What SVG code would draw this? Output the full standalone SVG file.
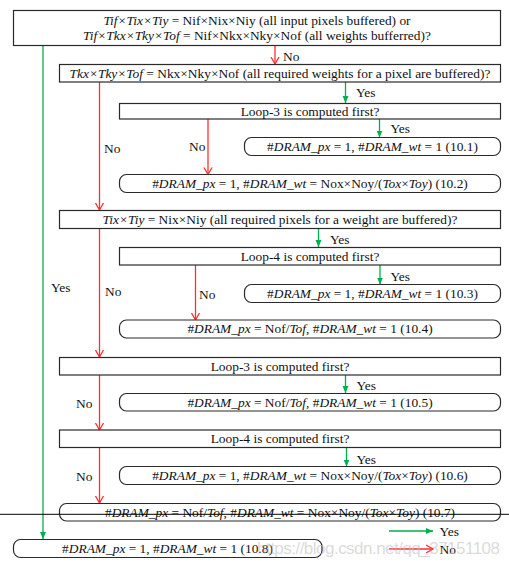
<svg xmlns="http://www.w3.org/2000/svg" width="509" height="566" viewBox="0 0 509 566">
<style>
.box{fill:#fff;stroke:#2a2a2a;stroke-width:1.2}
.t{font-family:"Liberation Serif","Times New Roman",serif;font-size:13.4px;fill:#111;text-anchor:middle}
.l{font-family:"Liberation Serif","Times New Roman",serif;font-size:13.4px;fill:#111}
.i{font-style:italic}
.g{stroke:#00b050;stroke-width:1.3;fill:none;marker-end:url(#ag)}
.r{stroke:#ff3030;stroke-width:1.3;fill:none;marker-end:url(#ar)}
.wm{font-family:"Liberation Sans",Arial,sans-serif;font-size:17px;fill:#bbbbbb;fill-opacity:0.55}
</style>
<defs>
<marker id="ag" markerUnits="userSpaceOnUse" markerWidth="8" markerHeight="8" refX="7" refY="4" orient="auto">
<path d="M0,1 L7,4 L0,7 Z" fill="#00b050"/>
</marker>
<marker id="ar" markerUnits="userSpaceOnUse" markerWidth="10" markerHeight="10" refX="7.5" refY="5" orient="auto">
<path d="M0.5,1 L7.5,5 L0.5,9" fill="none" stroke="#ff3030" stroke-width="1.3"/>
</marker>
</defs>
<g id="connectors">
<line class="g" x1="43" y1="45.5" x2="43" y2="539"/>
<line class="r" x1="275" y1="45.5" x2="275" y2="64"/>
<line class="g" x1="345.5" y1="82" x2="345.5" y2="103"/>
<line class="r" x1="99.5" y1="82" x2="99.5" y2="210"/>
<line class="g" x1="379.5" y1="119" x2="379.5" y2="137.5"/>
<line class="r" x1="208" y1="119" x2="208" y2="174.5"/>
<line class="g" x1="318.5" y1="228.5" x2="318.5" y2="247"/>
<line class="r" x1="99.5" y1="228.5" x2="99.5" y2="357"/>
<line class="g" x1="380" y1="265" x2="380" y2="284.5"/>
<line class="r" x1="195.5" y1="265" x2="195.5" y2="320"/>
<line class="g" x1="345.5" y1="375" x2="345.5" y2="393"/>
<line class="r" x1="99.5" y1="375" x2="99.5" y2="430"/>
<line class="g" x1="346.5" y1="448" x2="346.5" y2="466.5"/>
<line class="r" x1="99.5" y1="448" x2="99.5" y2="503"/>
<line class="g" x1="389" y1="531" x2="433" y2="531"/>
<line class="r" x1="389" y1="549" x2="433" y2="549"/>
<g class="l">
<text x="283" y="61">No</text>
<text x="356" y="97">Yes</text>
<text x="390.5" y="133">Yes</text>
<text x="104" y="152.5">No</text>
<text x="189" y="151">No</text>
<text x="330" y="244">Yes</text>
<text x="390.5" y="280.5">Yes</text>
<text x="199" y="298.5">No</text>
<text x="105" y="296">No</text>
<text x="51" y="292">Yes</text>
<text x="356.5" y="389.5">Yes</text>
<text x="76" y="408">No</text>
<text x="356.5" y="463.5">Yes</text>
<text x="76" y="481">No</text>
<text x="439.5" y="536">Yes</text>
<text x="439.5" y="553.5">No</text>
</g>
</g>
<g id="n1"><rect class="box" x="13.5" y="10.5" width="487" height="35"/>
<text class="t" x="257" y="25"><tspan class="i">Tif×Tix×Tiy</tspan> = Nif×Nix×Niy (all input pixels buffered) or</text>
<text class="t" x="257" y="40"><tspan class="i">Tif×Tkx×Tky×Tof</tspan> = Nif×Nkx×Nky×Nof (all weights bufferred)?</text></g>
<g id="n2"><rect class="box" x="59.5" y="64.5" width="441" height="17.5"/>
<text class="t" x="280" y="77.5"><tspan class="i">Tkx×Tky×Tof</tspan> = Nkx×Nky×Nof (all required weights for a pixel are buffered)?</text></g>
<g id="n3"><rect class="box" x="119.5" y="103.5" width="381" height="15.5"/>
<text class="t" x="310" y="115.5">Loop-3 is computed first?</text></g>
<g id="n4"><rect class="box" x="244.5" y="137.5" width="256" height="18" rx="7"/>
<text class="t" x="372.5" y="150.5">#<tspan class="i">DRAM_px</tspan> = 1, #<tspan class="i">DRAM_wt</tspan> = 1 (10.1)</text></g>
<g id="n5"><rect class="box" x="119.5" y="174.5" width="381" height="18" rx="7"/>
<text class="t" x="310" y="187.5">#<tspan class="i">DRAM_px</tspan> = 1, #<tspan class="i">DRAM_wt</tspan> = Nox×Noy/(<tspan class="i">Tox</tspan>×<tspan class="i">Toy</tspan>) (10.2)</text></g>
<g id="n6"><rect class="box" x="59.5" y="210.5" width="441" height="18"/>
<text class="t" x="280" y="223.5"><tspan class="i">Tix×Tiy</tspan> = Nix×Niy (all required pixels for a weight are buffered)?</text></g>
<g id="n7"><rect class="box" x="119.5" y="247.5" width="381" height="17.5"/>
<text class="t" x="310" y="260.5">Loop-4 is computed first?</text></g>
<g id="n8"><rect class="box" x="244.5" y="284.5" width="256" height="18" rx="7"/>
<text class="t" x="372.5" y="297.5">#<tspan class="i">DRAM_px</tspan> = 1, #<tspan class="i">DRAM_wt</tspan> = 1 (10.3)</text></g>
<g id="n9"><rect class="box" x="119.5" y="320" width="381" height="18" rx="7"/>
<text class="t" x="310" y="333">#<tspan class="i">DRAM_px</tspan> = Nof/<tspan class="i">Tof</tspan>, #<tspan class="i">DRAM_wt</tspan> = 1 (10.4)</text></g>
<g id="n10"><rect class="box" x="59.5" y="357.5" width="441" height="17.5"/>
<text class="t" x="280" y="370.5">Loop-3 is computed first?</text></g>
<g id="n11"><rect class="box" x="119.5" y="393.5" width="381" height="17.5" rx="7"/>
<text class="t" x="310" y="406.5">#<tspan class="i">DRAM_px</tspan> = Nof/<tspan class="i">Tof</tspan>, #<tspan class="i">DRAM_wt</tspan> = 1 (10.5)</text></g>
<g id="n12"><rect class="box" x="59.5" y="430" width="441" height="17.5"/>
<text class="t" x="280" y="443">Loop-4 is computed first?</text></g>
<g id="n13"><rect class="box" x="119.5" y="466.5" width="381" height="18" rx="7"/>
<text class="t" x="310" y="479.5">#<tspan class="i">DRAM_px</tspan> = 1, #<tspan class="i">DRAM_wt</tspan> = Nox×Noy/(<tspan class="i">Tox</tspan>×<tspan class="i">Toy</tspan>) (10.6)</text></g>
<g id="n14"><rect class="box" x="59.5" y="503.5" width="441" height="17.5" rx="7"/>
<text class="t" x="280" y="516.5">#<tspan class="i">DRAM_px</tspan> = Nof/<tspan class="i">Tof</tspan>, #<tspan class="i">DRAM_wt</tspan> = Nox×Noy/(<tspan class="i">Tox</tspan>×<tspan class="i">Toy</tspan>) (10.7)</text></g>
<g id="n15"><rect class="box" x="13.5" y="539.5" width="308.5" height="18" rx="7"/>
<text class="t" x="167.5" y="552.5">#<tspan class="i">DRAM_px</tspan> = 1, #<tspan class="i">DRAM_wt</tspan> = 1 (10.8)</text></g>
<line x1="0" y1="514.3" x2="509" y2="514.3" stroke="#000" stroke-width="1"/>
<text class="wm" x="257" y="554" textLength="243">https://blog.csdn.net/qq_37151108</text>
</svg>
